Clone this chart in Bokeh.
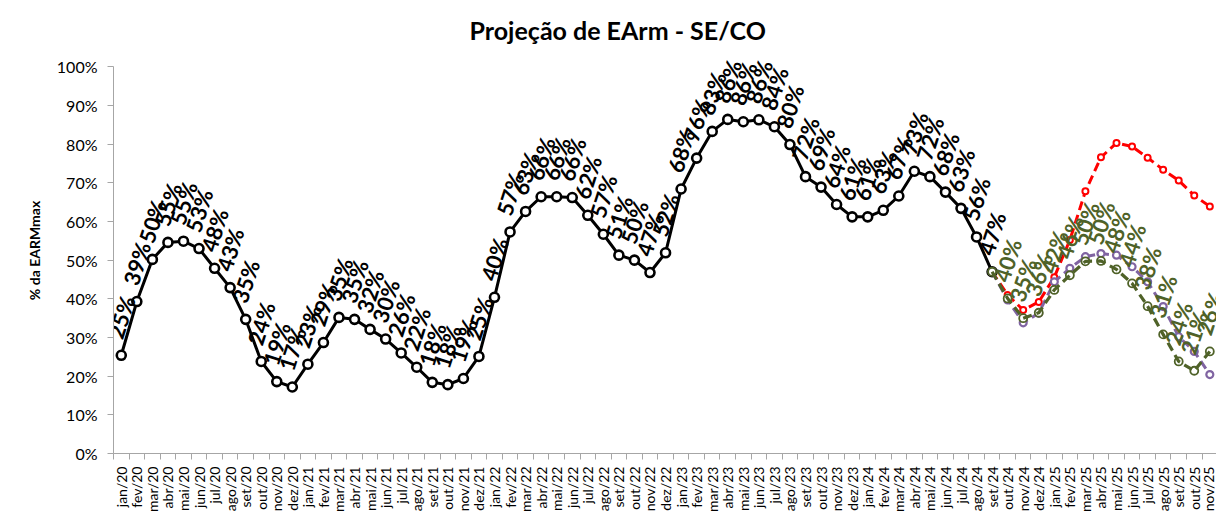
import math
from bokeh.plotting import figure
from bokeh.models import Range1d, FixedTicker, PrintfTickFormatter, CustomJSTickFormatter, ColumnDataSource
from bokeh.core.properties import value
from bokeh.embed import file_html
from bokeh.resources import INLINE

months = [
    "jan/20", "fev/20", "mar/20", "abr/20", "mai/20", "jun/20", "jul/20", "ago/20", "set/20", "out/20", "nov/20", "dez/20",
    "jan/21", "fev/21", "mar/21", "abr/21", "mai/21", "jun/21", "jul/21", "ago/21", "set/21", "out/21", "nov/21", "dez/21",
    "jan/22", "fev/22", "mar/22", "abr/22", "mai/22", "jun/22", "jul/22", "ago/22", "set/22", "out/22", "nov/22", "dez/22",
    "jan/23", "fev/23", "mar/23", "abr/23", "mai/23", "jun/23", "jul/23", "ago/23", "set/23", "out/23", "nov/23", "dez/23",
    "jan/24", "fev/24", "mar/24", "abr/24", "mai/24", "jun/24", "jul/24", "ago/24", "set/24", "out/24", "nov/24", "dez/24",
    "jan/25", "fev/25", "mar/25", "abr/25", "mai/25", "jun/25", "jul/25", "ago/25", "set/25", "out/25", "nov/25",
]

# Verified EArm (% EARMmax), jan/20 .. set/24
earm_hist = [
    25.4, 39.3, 50.2, 54.6, 54.9, 53.0, 47.9, 42.9, 34.7, 23.8, 18.6, 17.2,
    23.1, 28.7, 35.2, 34.7, 32.1, 29.6, 26.0, 22.3, 18.4, 17.8, 19.4, 25.1,
    40.4, 57.3, 62.6, 66.4, 66.4, 66.2, 61.6, 56.7, 51.3, 50.0, 46.8, 51.9,
    68.4, 76.4, 83.3, 86.4, 85.8, 86.3, 84.5, 79.9, 71.6, 68.9, 64.4, 61.2,
    61.2, 62.9, 66.6, 73.0, 71.6, 67.6, 63.4, 56.0, 47.0,
]

# Projections, set/24 .. nov/25
proj_start = "set/24"
proj_red = [47.0, 41.0, 37.1, 39.2, 45.6, 55.2, 67.8, 76.6, 80.3, 79.4, 76.5, 73.4, 70.6, 66.7, 63.9]
proj_purple = [47.0, 39.7, 33.8, 36.3, 44.4, 47.9, 50.9, 51.7, 51.3, 48.3, 44.4, 38.0, 30.2, 26.4, 20.4]
proj_green = [47.0, 40.1, 35.0, 36.4, 42.3, 46.1, 49.7, 49.8, 47.6, 44.0, 38.1, 30.8, 23.8, 21.4, 26.4]

FONT = "Lato"
BLACK = "#000000"
RED = "#FF0000"
PURPLE = "#8064A2"
GREEN = "#4F6228"
AXIS = "#A6A6A6"
LABEL_ANGLE = math.radians(72)

p = figure(width=1216, height=515, output_backend="svg", toolbar_location=None,
           x_range=Range1d(-0.5, 70.43), y_range=Range1d(0, 105),
           min_border_left=113, min_border_right=0, min_border_top=47, min_border_bottom=61,
           background_fill_color="white", border_fill_color="white")
p.outline_line_color = None
p.grid.visible = False

p.title.text = "Projeção de EArm - SE/CO"
p.title.text_font = FONT
p.title.text_font_size = "25px"
p.title.text_font_style = "bold"
p.title.text_color = "#000000"
p.title.align = "left"
p.title.offset = 356
p.title.standoff = 6

# y axis
ya = p.yaxis[0]
ya.ticker = FixedTicker(ticks=list(range(0, 101, 10)))
ya.formatter = PrintfTickFormatter(format="%d%%")
ya.bounds = (0, 100)
ya.axis_line_color = AXIS
ya.major_tick_line_color = AXIS
ya.major_tick_out = 6
ya.major_tick_in = 0
ya.minor_tick_line_color = None
ya.major_label_text_font = FONT
ya.major_label_text_font_size = "16px"
ya.major_label_text_color = "#000000"
ya.major_label_standoff = 10
ya.axis_label = "% da EARMmax"
ya.axis_label_text_font = FONT
ya.axis_label_text_font_size = "14px"
ya.axis_label_text_font_style = "bold"
ya.axis_label_text_color = "#000000"
ya.axis_label_standoff = 11

# x axis: tick marks between categories, month labels at category centres
xa = p.xaxis[0]
xa.ticker = FixedTicker(ticks=list(range(len(months))),
                        minor_ticks=[i - 0.5 for i in range(len(months) + 1)])
xa.formatter = CustomJSTickFormatter(args=dict(labels=months),
                                     code="const i = Math.round(tick); return (i >= 0 && i < labels.length) ? labels[i] : '';")
xa.axis_line_color = AXIS
xa.major_tick_line_color = None
xa.major_tick_out = 0
xa.major_tick_in = 0
xa.minor_tick_line_color = AXIS
xa.minor_tick_out = 6
xa.minor_tick_in = 0
xa.major_label_orientation = math.pi / 2
xa.major_label_text_font = FONT
xa.major_label_text_font_size = "14px"
xa.major_label_text_color = "#000000"
xa.major_label_standoff = 7

# historical series
hx = list(range(len(earm_hist)))
hist_src = ColumnDataSource(dict(x=hx, y=earm_hist, t=[f"{round(v)}%" for v in earm_hist]))
p.line("x", "y", source=hist_src, line_color=BLACK, line_width=3)
p.scatter("x", "y", source=hist_src, size=9, fill_color="white", line_color=BLACK, line_width=2.6)

s0 = months.index(proj_start)
px = list(range(s0, s0 + len(proj_red)))

red_src = ColumnDataSource(dict(x=px, y=proj_red))
p.line("x", "y", source=red_src, line_color=RED, line_width=3, line_dash="9 5")
p.scatter("x", "y", source=red_src, size=6, fill_color="white", line_color=RED, line_width=2)

pur_src = ColumnDataSource(dict(x=px, y=proj_purple))
p.line("x", "y", source=pur_src, line_color=PURPLE, line_width=3, line_dash="9 5")
p.scatter("x", "y", source=pur_src, size=7, fill_color="white", line_color=PURPLE, line_width=2.2)

grn_src = ColumnDataSource(dict(x=px, y=proj_green))
p.scatter("x", "y", source=grn_src, size=8, fill_color="white", line_color=GREEN, line_width=1.8)
p.line("x", "y", source=grn_src, line_color=GREEN, line_width=3.2, line_dash="9 5")

# data labels
p.text("x", "y", text="t", source=hist_src, angle=LABEL_ANGLE, y_offset=-38,
       text_align="center", text_baseline="middle", text_font=value(FONT),
       text_font_size="22px", text_font_style="bold", text_color=BLACK)
glab = ColumnDataSource(dict(x=px[1:], y=proj_green[1:], t=[f"{round(v)}%" for v in proj_green[1:]]))
p.text("x", "y", text="t", source=glab, angle=LABEL_ANGLE, y_offset=-38,
       text_align="center", text_baseline="middle", text_font=value(FONT),
       text_font_size="22px", text_font_style="bold", text_color=GREEN)

open("out.html", "w").write(file_html(p, INLINE))
